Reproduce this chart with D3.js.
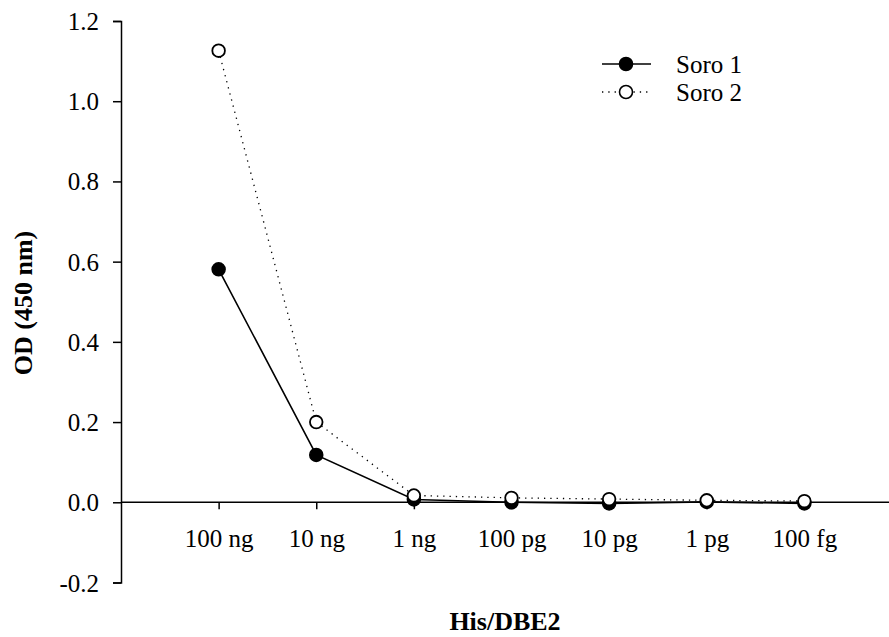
<!DOCTYPE html>
<html lang="en">
<head>
	<meta charset="UTF-8">
	<title>OD His/DBE2</title>
	<script src="https://d3js.org/d3.v7.min.js"></script>
	<style>
		body { margin: 0; background: #fff; }
		svg text { font-family: "Liberation Serif", "Times New Roman", serif; fill: #000; }
	</style>
</head>
<body>
	<div id="chart"></div>
<script>
	const categories = ['100 ng', '10 ng', '1 ng', '100 pg', '10 pg', '1 pg', '100 fg']
	const soro1 = [0.581, 0.118, 0.007, 0.000, -0.003, 0.001, -0.003]
	const soro2 = [1.126, 0.200, 0.017, 0.011, 0.008, 0.005, 0.003]
	const yTicks = [-0.2, 0.0, 0.2, 0.4, 0.6, 0.8, 1.0, 1.2]

	const width = 889, height = 637

	const svg = d3.select('#chart').append('svg')
		.attr('width', width).attr('height', height)

	const x = d3.scalePoint().domain(categories).range([121, 902]).padding(1)
	const y = d3.scaleLinear().domain([-0.2, 1.2]).range([582.5, 21])

	// y axis (plain hyphen for negatives, like the original)
	const fmt = d => d3.format('.1f')(d).replace('−', '-')
	const yAxis = svg.append('g')
		.attr('transform', 'translate(121,0)')
		.call(d3.axisLeft(y).tickValues(yTicks).tickFormat(fmt).tickSizeOuter(0).tickSize(8).tickPadding(14))
	yAxis.select('.domain').attr('stroke-width', 1.5)
	yAxis.selectAll('.tick line').attr('stroke-width', 1.5)
	yAxis.selectAll('text').attr('font-size', 25).attr('dy', '0.34em')

	// x axis at y = 0
	const xAxis = svg.append('g')
		.attr('transform', `translate(0,${y(0)})`)
		.call(d3.axisBottom(x).tickSizeOuter(0).tickSize(7).tickPadding(20))
	xAxis.select('.domain').attr('d', `M121,0H${width}`).attr('stroke-width', 1.5)
	xAxis.selectAll('.tick line').attr('stroke-width', 1.5)
	xAxis.selectAll('text').attr('font-size', 25).attr('dy', '0.71em')

	// axis titles
	svg.append('text')
		.attr('transform', 'translate(32,303) rotate(-90)')
		.attr('text-anchor', 'middle')
		.attr('font-size', 26).attr('font-weight', 'bold')
		.text('OD (450 nm)')
	svg.append('text')
		.attr('x', 505).attr('y', 630)
		.attr('text-anchor', 'middle')
		.attr('font-size', 26).attr('font-weight', 'bold')
		.text('His/DBE2')

	const line = d3.line().x((d, i) => x(categories[i])).y(d => y(d))

	svg.append('path').datum(soro1)
		.attr('d', line).attr('fill', 'none')
		.attr('stroke', '#000').attr('stroke-width', 1.6)
	svg.append('path').datum(soro2)
		.attr('d', line).attr('fill', 'none')
		.attr('stroke', '#000').attr('stroke-width', 1.3)
		.attr('stroke-dasharray', '1.3,5')

	svg.append('g').selectAll('circle').data(soro1).join('circle')
		.attr('cx', (d, i) => x(categories[i])).attr('cy', d => y(d))
		.attr('r', 6.5).attr('fill', '#000').attr('stroke', '#000').attr('stroke-width', 1.5)
	svg.append('g').selectAll('circle').data(soro2).join('circle')
		.attr('cx', (d, i) => x(categories[i])).attr('cy', d => y(d))
		.attr('r', 6.3).attr('fill', '#fff').attr('stroke', '#000').attr('stroke-width', 1.8)

	// legend
	const legend = svg.append('g')
	const items = [
		{ label: 'Soro 1', fill: '#000', dash: null, w: 1.6, y: 64 },
		{ label: 'Soro 2', fill: '#fff', dash: '1.3,5', w: 1.3, y: 92 }
	]
	items.forEach(it => {
		legend.append('line')
			.attr('x1', 602).attr('x2', 651).attr('y1', it.y).attr('y2', it.y)
			.attr('stroke', '#000').attr('stroke-width', it.w)
			.attr('stroke-dasharray', it.dash)
		legend.append('circle')
			.attr('cx', 626).attr('cy', it.y).attr('r', 6.5)
			.attr('fill', it.fill).attr('stroke', '#000').attr('stroke-width', 1.6)
		legend.append('text')
			.attr('x', 676).attr('y', it.y + 8.5)
			.attr('font-size', 25)
			.text(it.label)
	})
</script>
</body>
</html>
